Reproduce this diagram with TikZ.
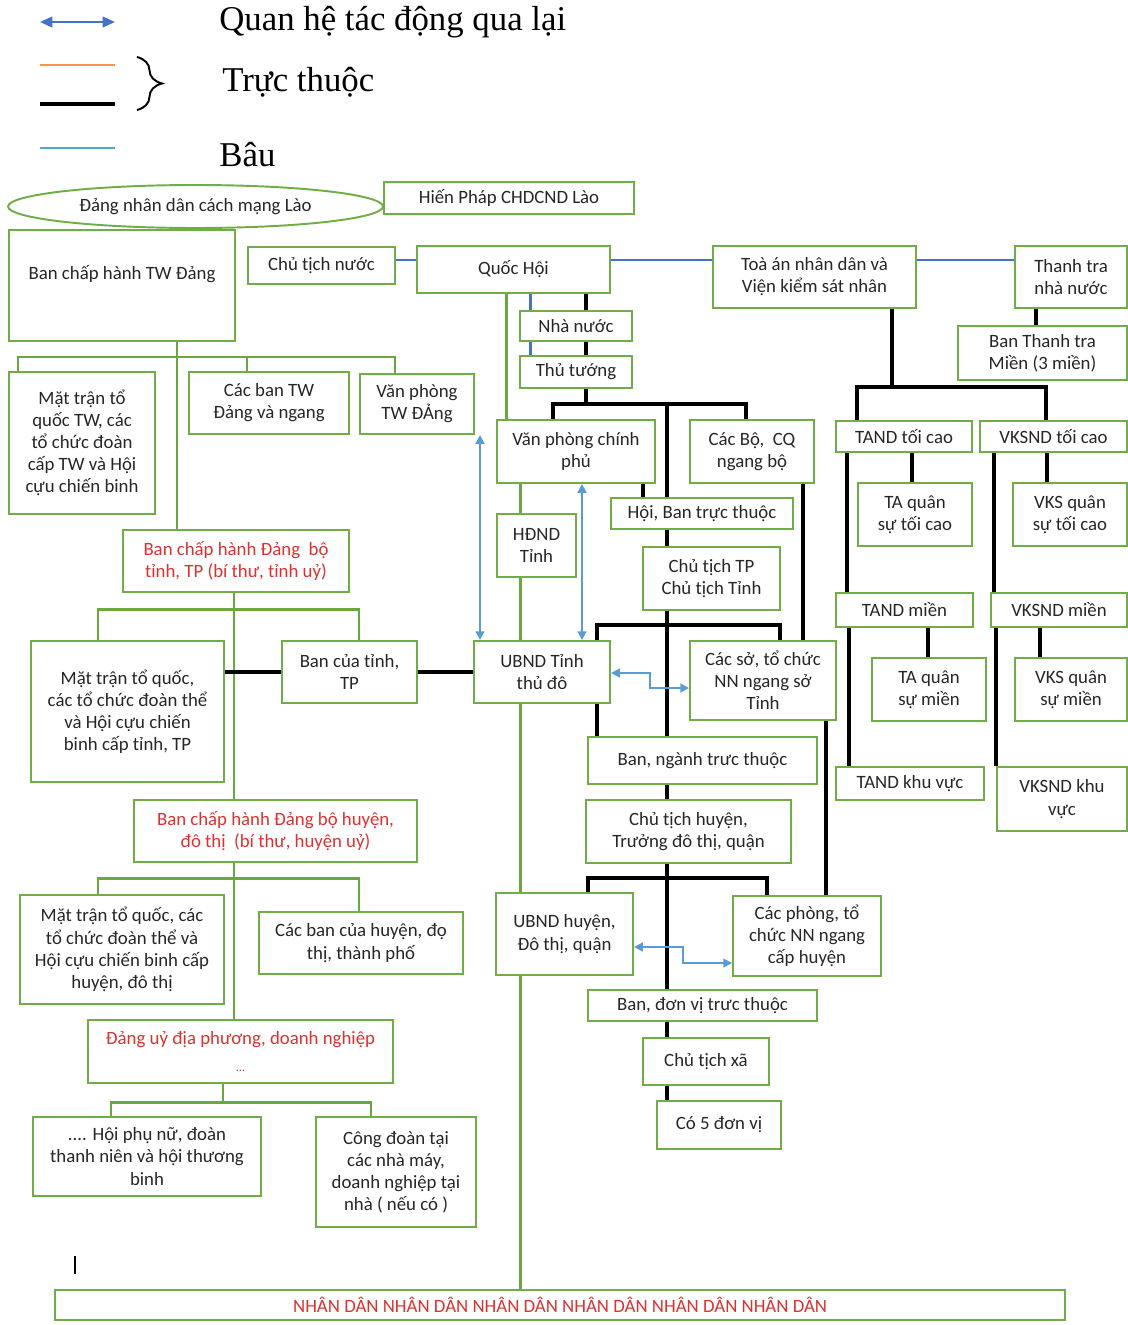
\documentclass[tikz,border=0pt]{standalone}
\usepackage{fontspec}
\usetikzlibrary{shapes.geometric,arrows.meta,decorations.pathreplacing}
\newfontfamily\boxfont{Carlito}
\newfontfamily\legendfont{Liberation Serif}
\definecolor{boxgreen}{RGB}{112,173,71}
\definecolor{linegreen}{RGB}{104,168,62}
\definecolor{quanblue}{RGB}{68,114,196}
\definecolor{arrowblue}{RGB}{91,155,213}
\definecolor{legorange}{RGB}{247,150,70}
\definecolor{legcyan}{RGB}{75,172,198}
\definecolor{partyred}{RGB}{220,50,47}
\tikzset{
  box/.style={draw=boxgreen, line width=1.1pt, inner sep=0pt, align=center,
    text=black!85, font=\boxfont\fontsize{10.7}{12.6}\selectfont},
  redbox/.style={box, text=partyred},
  spot/.style n args={4}{at={({(#1+#3)/2},{(#2+#4)/2})},
    minimum width={(#3-#1)*0.02cm}, minimum height={(#4-#2)*0.02cm}},
  gline/.style={draw=linegreen, line width=1.7pt},
  kline/.style={draw=black, line width=2pt},
  qline/.style={draw=quanblue, line width=1.7pt},
  barrow/.style={draw=arrowblue, line width=1.1pt,
    {Triangle[length=5pt,width=5pt]}-{Triangle[length=5pt,width=5pt]}},
  legtext/.style={anchor=base west, inner sep=0pt,
    font=\legendfont\fontsize{19.8}{24}\selectfont}
}
\begin{document}
\begin{tikzpicture}[x=0.02cm, y=-0.02cm]
\useasboundingbox (0,0) rectangle (1128,1325);

% Marking the legend
\draw [draw=quanblue, line width=1.3pt, {Triangle[length=7pt,width=6pt]}-{Triangle[length=7pt,width=6pt]}] (40,22) -- (115,22);
\draw [draw=legorange, line width=1.7pt] (40,65) -- (115,65);
\draw [draw=black, line width=2.2pt] (40,104) -- (115,104);
\draw [draw=legcyan, line width=1.7pt] (40,148) -- (115,148);
\draw [line width=1.1pt, decorate, decoration={brace, amplitude=0.5cm}] (137,57) -- (137,110);
\node [legtext] (legquan) at (219,31) {Quan hệ tác động qua lại};
\node [legtext] (legtruc) at (222,91) {Trực thuộc};
\node [legtext] (legbau) at (219,166) {Bâu};

% Marking the top row
\node [box, ellipse, minimum width=7.5cm, minimum height=0.86cm] (dang) at (195.5,206.5) {Đảng nhân dân cách mạng Lào};
\node [box, spot={384}{182}{634}{214}] (hienphap) {Hiến Pháp CHDCND Lào};
\node [box, spot={9}{230}{235}{341}] (bchtw) {\raisebox{0.13cm}[0pt][0pt]{Ban chấp hành TW Đảng}};
\node [box, spot={248}{247}{395}{284}] (chutichnuoc) {Chủ tịch nước};
\node [box, spot={417}{246}{610}{293}] (quochoi) {Quốc Hội};
\node [box, spot={713}{246}{916}{308}] (toaan) {Toà án nhân dân và\\Viện kiểm sát nhân};
\node [box, spot={1015}{246}{1127}{308}] (thanhtra) {Thanh tra\\nhà nước};

% Marking the state column
\node [box, spot={520}{311}{632}{341}] (nhanuoc) {Nhà nước};
\node [box, spot={520}{356}{632}{388}] (thutuong) {Thủ tướng};
\node [box, spot={497}{420}{655}{483}] (vpcp) {Văn phòng chính\\phủ};
\node [box, spot={690}{420}{814}{483}] (cacbo) {Các Bộ,~ CQ\\ngang bộ};
\node [box, spot={611}{498}{793}{529}] (hoiban) {Hội, Ban trực thuộc};
\node [box, spot={497}{514}{576}{577}] (hdnd) {HĐND\\Tỉnh};
\node [box, spot={643}{547}{780}{610}] (cttp) {Chủ tịch TP\\Chủ tịch Tỉnh};
\node [box, spot={474}{641}{610}{703}] (ubnd) {UBND Tỉnh\\thủ đô};
\node [box, spot={690}{641}{836}{720}] (cacso) {Các sở, tổ chức\\NN ngang sở\\Tỉnh};
\node [box, spot={588}{737}{817}{784}] (bannganh) {Ban, ngành trưc thuộc};
\node [box, spot={586}{800}{791}{863}] (cthuyen) {Chủ tịch huyện,\\Trưởng đô thị, quận};
\node [box, spot={496}{893}{633}{975}] (ubndh) {UBND huyện,\\Đô thị, quận};
\node [box, spot={733}{896}{881}{976}] (cacphong) {Các phòng, tổ\\chức NN ngang\\cấp huyện};
\node [box, spot={588}{990}{817}{1021}] (bandonvi) {Ban, đơn vị trưc thuộc};
\node [box, spot={643}{1038}{769}{1085}] (ctxa) {Chủ tịch xã};
\node [box, spot={657}{1101}{781}{1149}] (co5) {Có 5 đơn vị};

% Marking the court column
\node [box, spot={958}{326}{1127}{380}] (banthanhtra) {Ban Thanh tra\\Miền (3 miền)};
\node [box, spot={836}{421}{972}{452}] (tandtc) {TAND tối cao};
\node [box, spot={980}{421}{1127}{452}] (vksndtc) {VKSND tối cao};
\node [box, spot={858}{483}{972}{546}] (taqstc) {TA quân\\sự tối cao};
\node [box, spot={1013}{483}{1127}{546}] (vksqstc) {VKS quân\\sự tối cao};
\node [box, spot={836}{593}{973}{627}] (tandmien) {TAND miền};
\node [box, spot={991}{593}{1127}{627}] (vksndmien) {VKSND miền};
\node [box, spot={872}{658}{986}{721}] (taqsmien) {TA quân\\sự miền};
\node [box, spot={1015}{658}{1127}{721}] (vksqsmien) {VKS quân\\sự miền};
\node [box, spot={836}{767}{984}{800}] (tandkv) {TAND khu vực};
\node [box, spot={997}{767}{1127}{831}] (vksndkv) {VKSND khu\\vực};

% Marking the party column
\node [box, spot={9}{372}{155}{514}] (mattran1) {Mặt trận tổ\\quốc TW, các\\tổ chức đoàn\\cấp TW và Hội\\cựu chiến binh};
\node [box, spot={189}{372}{349}{434}] (cbtw) {Các ban TW\\Đảng và ngang};
\node [box, spot={360}{374}{474}{434}] (vptw) {Văn phòng\\TW ĐẢng};
\node [redbox, spot={123}{530}{349}{592}] (bchdbt) {Ban chấp hành Đảng~ bộ\\tỉnh, TP (bí thư, tỉnh uỷ)};
\node [box, spot={31}{641}{224}{782}] (mattran2) {Mặt trận tổ quốc,\\các tổ chức đoàn thể\\và Hội cựu chiến\\binh cấp tỉnh, TP};
\node [box, spot={282}{641}{417}{703}] (bancuatinh) {Ban của tỉnh,\\TP};
\node [redbox, spot={134}{800}{417}{862}] (bchdbh) {Ban chấp hành Đảng bộ huyện,\\đô thị~ (bí thư, huyện uỷ)};
\node [box, spot={20}{895}{224}{1004}] (mattran3) {Mặt trận tổ quốc, các\\tổ chức đoàn thể và\\Hội cựu chiến binh cấp\\huyện, đô thị};
\node [box, spot={259}{912}{463}{974}] (cbhuyen) {Các ban của huyện, đọ\\thị, thành phố};
\node [redbox, spot={88}{1020}{393}{1083}] (danguy) {Đảng uỷ địa phương, doanh nghiệp\\[3pt]{\scriptsize ...}};
\node [box, spot={33}{1117}{261}{1196}] (hoiphunu) {.... Hội phụ nữ, đoàn\\thanh niên và hội thương\\binh};
\node [box, spot={316}{1117}{476}{1227}] (congdoan) {Công đoàn tại\\các nhà máy,\\doanh nghiệp tại\\nhà ( nếu có )};
\node [redbox, spot={55}{1290}{1065}{1320}] (nhandan) {NHÂN DÂN NHÂN DÂN NHÂN DÂN NHÂN DÂN NHÂN DÂN NHÂN DÂN};

% Drawing the blue links of the top row
\draw [qline] (chutichnuoc.east |- 0,260) -- (quochoi.west |- 0,260);
\draw [qline] (quochoi.east |- 0,260) -- (toaan.west |- 0,260);
\draw [qline] (toaan.east |- 0,260) -- (thanhtra.west |- 0,260);
\draw [qline] (530,0 |- quochoi.south) -- (530,0 |- nhanuoc.north);
\draw [qline] (530,0 |- nhanuoc.south) -- (530,0 |- thutuong.north);

% Drawing the green party lines
\coordinate (twbar) at (177,357);
\draw [gline] (177,0 |- bchtw.south) -- (twbar) -- (177,0 |- bchdbt.north);
\draw [gline] (18,0 |- mattran1.north) |- (395,357) -- (395,0 |- vptw.north);
\draw [gline] (247,357) -- (247,0 |- cbtw.north);
\draw [gline] (234,0 |- bchdbt.south) -- (234,0 |- bchdbh.north);
\draw [gline] (98,0 |- mattran2.north) |- (359,609) -- (359,0 |- bancuatinh.north);
\draw [gline] (234,0 |- bchdbh.south) -- (234,0 |- danguy.north);
\draw [gline] (98,0 |- mattran3.north) |- (359,878) -- (359,0 |- cbhuyen.north);
\coordinate (dubar) at (223,1102);
\draw [gline] (223,0 |- danguy.south) -- (dubar);
\draw [gline] (111,0 |- hoiphunu.north) |- (371,1102) -- (371,0 |- congdoan.north);
\draw [gline] (506,0 |- quochoi.south) -- (506,0 |- vpcp.north);
\draw [gline] (520,0 |- vpcp.south) -- (520,0 |- hdnd.north);
\draw [gline] (520,0 |- hdnd.south) -- (520,0 |- ubnd.north);
\draw [gline] (520,0 |- ubnd.south) -- (520,0 |- ubndh.north);
\draw [gline] (520,0 |- ubndh.south) -- (520,0 |- nhandan.north);

% Drawing the black state lines
\draw [kline] (586,0 |- quochoi.south) -- (586,0 |- nhanuoc.north);
\draw [kline] (586,0 |- nhanuoc.south) -- (586,0 |- thutuong.north);
\draw [kline] (586,0 |- thutuong.south) -- (586,404);
\draw [kline] (553,0 |- vpcp.north) |- (746,404) -- (746,0 |- cacbo.north);
\draw [kline] (667,404) -- (667,0 |- hoiban.north);
\draw [kline] (643,0 |- vpcp.south) -- (643,0 |- hoiban.north);
\draw [kline] (667,0 |- hoiban.south) -- (667,0 |- cttp.north);
\draw [kline] (667,0 |- cttp.south) -- (667,0 |- bannganh.north);
\draw [kline] (597,0 |- ubnd.north) |- (780,625) -- (780,0 |- cacso.north);
\draw [kline] (803,0 |- cacbo.south) -- (803,0 |- cacso.north);
\draw [kline] (597,0 |- ubnd.south) -- (597,0 |- bannganh.north);
\draw [kline] (667,0 |- bannganh.south) -- (667,0 |- cthuyen.north);
\draw [kline] (667,0 |- cthuyen.south) -- (667,0 |- bandonvi.north);
\draw [kline] (588,0 |- ubndh.north) |- (767,878) -- (767,0 |- cacphong.north);
\draw [kline] (826,0 |- cacso.south) -- (826,0 |- cacphong.north);
\draw [kline] (667,0 |- bandonvi.south) -- (667,0 |- ctxa.north);
\draw [kline] (667,0 |- ctxa.south) -- (667,0 |- co5.north);
\draw [kline] (mattran2.east |- 0,672) -- (bancuatinh.west |- 0,672);
\draw [kline] (bancuatinh.east |- 0,672) -- (ubnd.west |- 0,672);

% Drawing the black court lines
\draw [kline] (892,0 |- toaan.south) -- (892,387);
\draw [kline] (857,0 |- tandtc.north) |- (1046,387) -- (1046,0 |- vksndtc.north);
\draw [kline] (1036,0 |- thanhtra.south) -- (1036,0 |- banthanhtra.north);
\draw [kline] (912,0 |- tandtc.south) -- (912,0 |- taqstc.north);
\draw [kline] (1047,0 |- vksndtc.south) -- (1047,0 |- vksqstc.north);
\draw [kline] (847,0 |- tandtc.south) -- (847,0 |- tandmien.north);
\draw [kline] (994,0 |- vksndtc.south) -- (994,0 |- vksndmien.north);
\draw [kline] (928,0 |- tandmien.south) -- (928,0 |- taqsmien.north);
\draw [kline] (1040,0 |- vksndmien.south) -- (1040,0 |- vksqsmien.north);
\draw [kline] (849,0 |- tandmien.south) -- (849,0 |- tandkv.north);
\draw [kline] (996,0 |- vksndmien.south) -- (996,0 |- vksndkv.north);

% Drawing the two-way arrows
\draw [barrow] (480,0 |- vptw.south) -- (480,0 |- ubnd.north);
\draw [barrow] (582,0 |- vpcp.south) -- (582,0 |- ubnd.north);
\draw [barrow] (ubnd.east |- 0,673) -| (650,688) -- (cacso.west |- 0,688);
\draw [barrow] (ubndh.east |- 0,947) -| (683,963) -- (cacphong.west |- 0,963);

% Marking the cursor stroke
\draw [line width=1.2pt] (75,1256) -- (75,1274);
\end{tikzpicture}
\end{document}
